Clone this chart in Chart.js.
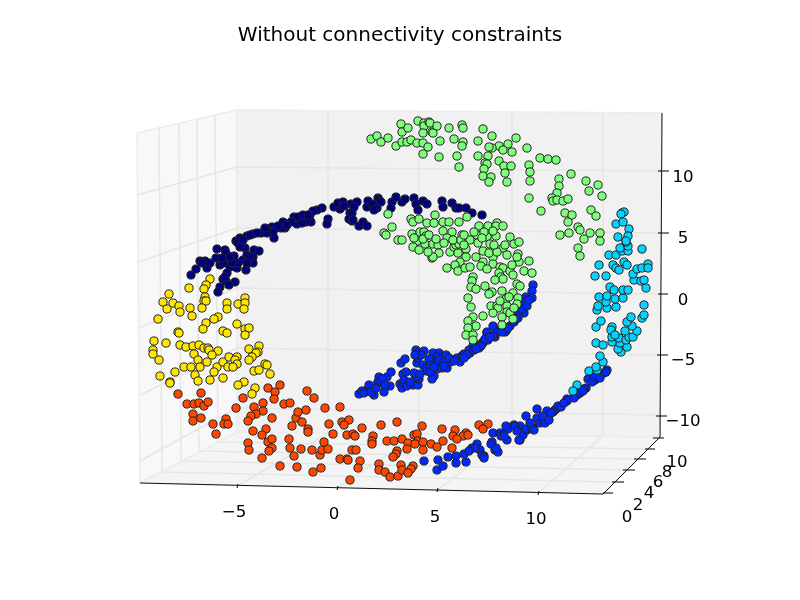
<!DOCTYPE html>
<html>
<head>
<meta charset="utf-8">
<title>Without connectivity constraints</title>
<script src="https://cdn.jsdelivr.net/npm/chart.js@4"></script>
<style>
  html, body { margin: 0; background: #fff; }
  canvas { display: block; }
</style>
</head>
<body>
<canvas id="myChart" width="800" height="600"></canvas>
<script>
const navy = [[-1.2,9.1],[-1.7,8.9],[-2.1,8.8],[-2.4,8.4],[-2.3,7.7],[-2.8,8.3],[-2.8,7.7],[-3.3,8.1],[-3.7,7.5],[-4.0,8.2],[-4.3,7.7],[-4.9,7.1],[-5.1,7.7],[-5.3,7.1],[-5.8,7.1],[-6.2,7.2],[-6.0,6.1],[-6.6,6.9],[-7.3,6.6],[-8.1,6.5],[-8.7,6.3],[-9.2,5.9],[-9.8,5.8],[-8.9,5.1],[-8.0,4.9],[-7.5,4.8],[-8.1,4.2],[-8.1,3.6],[-9.1,3.9],[-8.8,2.9],[-9.7,3.1],[-10.0,4.3],[-10.9,4.9],[-11.7,5.0],[-10.8,4.6],[-11.8,4.1],[-10.7,3.6],[-11.4,3.4],[-10.4,3.2],[-10.7,2.6],[-12.7,3.1],[-12.9,3.8],[-13.4,3.8],[-13.8,3.0],[-14.3,2.4],[-11.1,2.0],[-10.8,1.8],[-9.9,1.7],[-10.5,1.4],[-11.4,1.2],[-11.6,0.7],[-0.6,8.0],[-0.7,7.5],[0.0,9.2],[0.6,9.0],[0.4,9.6],[0.9,9.7],[1.6,8.6],[1.5,8.0],[1.7,9.5],[2.3,9.7],[2.0,9.2],[3.3,9.2],[3.4,9.8],[4.1,9.2],[4.3,9.1],[4.4,10.1],[4.5,9.9],[4.7,9.7],[5.8,9.7],[5.7,9.1],[6.2,10.2],[6.8,9.7],[7.1,10.0],[8.0,10.1],[8.2,9.5],[8.4,8.9],[8.9,9.8],[9.3,9.5],[10.8,9.8],[10.9,9.2],[11.8,9.6],[12.2,9.1],[12.5,9.1],[13.2,9.1],[13.8,8.6],[14.8,8.4],[1.8,8.6],[1.8,7.8],[2.5,7.3],[2.9,7.7],[3.3,7.3],[-3.6,8.2],[-3.1,8.4],[-2.6,8.4],[-3.2,7.6],[-4.7,7.4],[-5.6,7.3],[-6.1,6.7],[-6.7,6.6],[-6.9,7.1],[-7.7,6.6],[-8.4,6.4],[-9.4,6.1],[-9.6,5.6],[-9.1,5.9],[-9.4,5.2],[-8.7,4.4],[-8.4,4.2],[-8.7,3.6],[-9.6,3.6],[-10.2,3.6],[-11.1,3.6],[-10.4,4.2],[-11.2,4.1],[-12.4,3.6],[-13.2,3.6],[-10.9,2.2],[1.0,9.3],[3.8,9.5],[4.0,8.9],[1.9,7.9]];
const green = [[3.7,16.0],[4.3,16.3],[4.7,15.7],[5.4,16.1],[6.2,15.3],[6.8,15.7],[7.3,15.7],[7.7,15.9],[8.3,15.6],[8.9,15.6],[9.4,15.2],[8.9,14.5],[10.5,14.2],[12.3,14.3],[12.5,13.2],[6.7,17.5],[6.8,16.7],[7.4,17.1],[8.4,17.8],[9.0,17.6],[9.0,17.3],[9.5,17.7],[9.6,17.6],[8.9,16.6],[9.8,16.7],[9.9,16.6],[10.3,17.3],[11.5,17.1],[10.6,15.8],[12.0,16.0],[12.8,17.4],[12.9,17.1],[12.9,15.7],[12.8,15.3],[14.4,15.8],[14.9,17.0],[15.8,16.3],[18.2,16.1],[17.4,15.5],[16.5,15.3],[15.8,15.1],[15.5,15.2],[16.9,14.9],[17.8,14.7],[19.3,15.1],[14.4,14.3],[15.4,14.3],[15.1,13.6],[15.3,13.5],[15.0,13.0],[14.9,12.3],[15.7,12.2],[15.5,11.7],[16.5,13.8],[17.0,13.3],[17.7,13.3],[17.1,12.6],[17.3,11.7],[19.5,13.4],[19.6,12.7],[19.6,11.8],[19.5,10.1],[20.7,8.8],[20.6,14.1],[21.4,14.0],[22.2,13.9],[23.7,12.5],[22.5,12.0],[22.5,11.3],[22.3,10.6],[21.8,10.1],[21.9,9.8],[22.3,9.9],[22.9,9.8],[23.4,10.0],[25.2,11.8],[26.4,11.4],[25.5,10.8],[26.8,10.3],[25.7,8.9],[26.2,8.3],[23.1,8.6],[23.8,8.4],[23.4,7.7],[24.4,7.2],[24.6,6.9],[25.6,6.6],[23.5,6.6],[22.6,6.4],[25.0,6.0],[26.6,6.6],[26.6,5.8],[24.4,5.1],[24.6,4.3],[5.4,8.5],[5.8,7.2],[5.0,6.6],[5.2,6.4],[6.4,5.9],[6.8,5.9],[7.7,8.0],[7.9,7.7],[8.5,8.0],[9.3,7.6],[10.1,8.4],[10.0,7.6],[7.8,6.5],[8.6,6.7],[9.0,6.7],[9.2,6.3],[8.3,5.8],[7.9,5.2],[8.5,4.9],[9.1,5.5],[9.9,5.5],[10.4,5.4],[10.5,4.6],[9.8,4.1],[9.9,4.2],[10.9,7.7],[10.9,6.8],[11.5,7.7],[11.8,6.7],[11.3,6.1],[11.6,4.7],[12.0,5.2],[12.4,4.6],[13.2,5.0],[13.2,4.2],[12.5,7.7],[13.3,8.2],[12.8,6.4],[13.6,5.9],[12.2,5.4],[12.5,5.5],[12.6,3.7],[12.1,3.4],[11.3,3.1],[12.4,2.8],[13.1,3.1],[13.6,3.2],[14.5,7.3],[15.4,7.3],[16.3,7.6],[16.2,7.3],[16.9,7.3],[16.2,6.3],[15.3,6.2],[14.3,6.4],[14.4,5.6],[14.9,4.8],[15.6,5.5],[14.2,4.2],[14.9,3.7],[15.9,4.2],[15.9,3.5],[16.6,3.2],[16.9,3.1],[17.6,6.2],[18.0,5.5],[18.5,5.7],[16.9,5.1],[17.3,4.4],[18.4,4.5],[18.5,3.7],[19.5,3.8],[19.0,2.8],[19.8,2.6],[18.3,4.2],[17.6,2.8],[17.9,2.4],[16.5,2.6],[16.7,2.2],[16.9,2.0],[16.1,1.9],[18.3,1.5],[18.6,1.3],[13.9,2.2],[13.8,1.8],[13.7,1.2],[14.2,1.0],[13.4,0.1],[13.7,-0.8],[15.1,1.3],[15.8,0.7],[15.5,0.5],[16.8,0.8],[17.9,0.6],[17.2,0.0],[18.4,0.1],[17.3,-0.7],[18.3,-0.5],[15.7,-0.7],[16.3,-0.7],[16.4,-0.9],[15.9,-1.4],[17.3,-1.3],[17.6,-1.4],[14.9,-1.7],[13.9,-1.8],[13.4,-2.2],[14.2,-2.7],[13.4,-2.9],[13.2,-3.6],[13.9,-3.6],[16.8,-1.8],[16.8,-2.6],[13.9,-4.1],[8.0,6.1],[8.9,6.0],[9.5,6.4],[10.2,6.0],[9.4,4.7],[11.0,5.6],[11.9,5.9],[12.7,5.9],[13.0,6.4],[13.0,5.4],[14.0,6.7],[15.0,6.7],[15.9,6.8],[14.8,6.1],[15.5,4.6],[16.3,4.7],[16.0,5.4],[17.1,5.4],[14.7,3.3],[15.3,3.0],[17.8,3.4],[17.5,0.2],[18.0,-0.9],[16.6,-0.2],[17.9,-2.0]];
const blue = [[2.5,-9.5],[2.8,-9.2],[3.4,-9.0],[3.5,-8.6],[4.0,-9.6],[4.4,-8.4],[4.5,-7.8],[4.4,-8.3],[5.0,-9.3],[5.3,-7.8],[5.7,-7.3],[5.6,-8.7],[6.6,-8.5],[6.8,-8.9],[6.9,-8.4],[6.9,-7.5],[7.2,-7.3],[6.7,-6.4],[7.1,-6.0],[8.3,-6.4],[8.2,-5.1],[8.4,-5.4],[8.4,-5.9],[9.0,-5.2],[8.9,-6.6],[7.9,-8.6],[8.4,-8.6],[8.5,-8.0],[8.2,-7.8],[9.2,-6.9],[9.3,-7.2],[9.9,-5.4],[10.5,-5.4],[10.3,-5.8],[10.1,-6.3],[10.6,-6.4],[10.9,-5.8],[11.2,-5.6],[11.3,-6.9],[10.8,-6.9],[10.3,-7.0],[10.0,-7.7],[9.8,-8.0],[11.6,-6.3],[12.3,-5.9],[12.6,-6.3],[12.8,-5.7],[13.6,-5.4],[14.5,-4.9],[14.9,-4.4],[15.3,-3.4],[16.1,-3.8],[16.3,-3.1],[17.2,-3.2],[14.2,-4.8],[19.9,1.4],[19.8,0.8],[19.2,0.2],[19.8,0.1],[19.1,-0.3],[19.0,-1.4],[18.4,-1.4],[18.4,-1.9],[17.6,-2.7],[18.0,-2.3],[17.1,-3.3],[15.9,-2.7],[15.3,-3.3],[16.2,-3.4],[15.9,-3.7],[15.4,-4.1],[14.9,-4.3],[14.5,-4.6],[13.9,-4.7],[13.5,-5.1],[9.0,-16.2],[10.3,-17.1],[10.4,-16.1],[10.9,-16.7],[11.4,-15.8],[12.2,-15.7],[12.2,-16.4],[13.2,-16.3],[13.0,-15.5],[13.8,-14.9],[14.3,-14.5],[14.6,-15.1],[14.8,-15.6],[15.0,-15.7],[15.8,-14.3],[15.7,-14.5],[16.1,-15.1],[16.4,-15.3],[15.9,-13.4],[16.6,-13.4],[17.4,-13.0],[17.2,-12.7],[17.3,-14.1],[18.0,-12.6],[18.6,-12.7],[18.6,-14.1],[18.9,-13.6],[19.3,-13.1],[19.9,-12.9],[19.2,-11.7],[20.3,-11.0],[20.5,-12.2],[15.0,-15.9],[16.2,-14.9],[16.7,-13.7],[18.1,-12.7],[18.5,-14.1],[19.2,-13.0],[19.8,-12.9],[20.0,-13.1],[20.3,-11.9],[21.3,-11.2],[20.6,-12.4],[21.0,-12.2],[21.1,-12.4],[21.4,-11.8],[22.1,-11.1],[22.2,-11.0],[22.4,-10.7],[23.3,-10.0],[23.3,-10.2],[24.5,-9.4],[24.3,-9.6],[25.2,-8.9],[25.4,-8.0],[26.1,-8.1],[26.3,-7.8],[27.0,-7.4],[27.3,-7.1],[26.6,-7.6],[24.6,-9.4],[21.9,-11.3],[3.0,-9.4],[3.7,-9.3],[4.2,-8.9],[4.8,-8.0],[5.1,-8.6],[7.0,-8.1],[7.3,-8.7],[7.6,-8.3],[8.0,-7.4],[8.6,-7.5],[8.7,-5.6],[8.1,-5.6],[9.5,-6.0],[9.7,-6.6],[9.6,-7.3],[10.0,-6.8],[10.5,-6.1],[11.0,-6.3],[11.0,-6.7],[11.5,-5.9],[12.0,-6.2],[13.0,-5.5],[13.3,-5.6],[14.0,-5.1],[14.7,-4.7],[15.1,-4.0],[15.6,-3.8],[16.8,-3.3],[17.4,-2.9],[18.2,-2.0],[18.8,-1.0],[19.3,-0.7],[19.5,-0.1],[14.2,-5.0],[13.0,-5.9],[20.9,-11.7],[21.7,-11.4],[21.5,-12.1],[22.7,-10.8],[23.0,-10.4],[24.0,-9.9],[25.0,-9.0],[25.8,-8.3],[26.0,-7.7],[26.6,-7.9],[27.2,-7.3],[24.9,-9.2],[18.3,-13.2],[17.0,-13.7],[14.1,-14.9],[13.5,-15.2],[19.6,-12.4]];
const cyan = [[24.3,-8.6],[23.9,-9.2],[25.5,-7.2],[26.3,-7.1],[26.2,-6.8],[26.9,-6.3],[26.6,-5.7],[26.2,-4.4],[26.9,-4.6],[28.7,-5.3],[28.4,-5.0],[29.3,-4.8],[28.6,-4.4],[27.8,-4.3],[27.8,-3.8],[28.5,-3.9],[29.2,-4.1],[29.5,-3.8],[29.9,-3.8],[30.3,-3.2],[29.8,-2.7],[29.1,-3.2],[29.3,-2.3],[29.7,-1.8],[30.8,-1.9],[31.0,-1.6],[31.0,-0.6],[27.8,-2.8],[27.7,-3.1],[28.1,-3.6],[26.2,-2.8],[26.7,-2.2],[26.3,-1.1],[26.4,-0.7],[27.3,-0.9],[28.2,-0.8],[27.2,-0.3],[26.5,0.2],[27.3,0.3],[28.1,0.0],[28.9,0.1],[27.6,1.2],[28.0,0.9],[28.9,0.9],[29.4,0.9],[31.2,1.1],[30.0,1.9],[30.7,1.8],[31.0,1.9],[29.9,2.5],[26.1,2.3],[27.2,2.3],[26.5,3.4],[27.9,3.4],[28.2,3.1],[28.5,2.9],[29.0,3.7],[29.3,3.4],[30.3,3.0],[30.8,3.1],[31.4,3.5],[31.4,3.1],[27.5,4.4],[28.2,4.4],[28.8,4.8],[29.4,4.8],[28.6,5.1],[29.4,5.3],[29.2,5.7],[30.8,5.0],[28.8,8.6],[29.0,8.7],[28.7,8.5],[28.2,7.5],[28.9,7.7],[29.5,7.0],[28.4,6.2],[29.4,6.3],[29.2,5.8]];
const yellow = [[-12.4,2.0],[-12.8,1.4],[-14.5,1.1],[-13.0,1.0],[-16.5,0.5],[-12.9,0.2],[-13.0,-0.2],[-12.8,-0.2],[-17.1,-0.3],[-16.1,-0.4],[-15.5,-0.7],[-16.7,-1.0],[-15.4,-1.3],[-14.4,-0.9],[-13.2,-0.9],[-14.2,-1.7],[-17.6,-2.0],[-10.7,-0.4],[-10.7,-1.0],[-9.6,-0.5],[-8.9,0.1],[-8.9,-0.4],[-9.0,-1.0],[-11.6,-1.8],[-12.0,-2.0],[-12.8,-2.4],[-13.1,-3.0],[-9.7,-2.5],[-11.1,-3.2],[-10.7,-3.4],[-8.9,-3.0],[-8.5,-2.9],[-8.9,-3.6],[-15.6,-3.3],[-15.5,-3.4],[-18.0,-4.2],[-16.8,-4.4],[-15.4,-4.6],[-14.8,-4.8],[-14.1,-4.7],[-13.5,-4.6],[-13.0,-4.9],[-12.6,-4.9],[-12.5,-5.1],[-11.6,-5.2],[-12.2,-5.6],[-18.1,-5.1],[-18.1,-5.5],[-17.5,-6.1],[-14.0,-5.5],[-13.6,-6.1],[-12.7,-6.3],[-15.0,-6.8],[-14.3,-6.8],[-13.4,-6.8],[-11.7,-6.8],[-11.1,-6.3],[-10.5,-5.8],[-9.7,-5.8],[-9.9,-6.1],[-9.7,-6.5],[-10.6,-6.8],[-10.1,-6.8],[-12.0,-7.3],[-12.4,-8.1],[-11.1,-7.9],[-8.5,-5.0],[-7.5,-4.7],[-7.6,-5.3],[-7.8,-5.4],[-8.2,-5.8],[-8.5,-6.1],[-15.9,-7.3],[-17.4,-7.7],[-16.4,-8.3],[-16.4,-8.4],[-13.9,-7.6],[-13.6,-8.2],[-8.0,-7.2],[-7.5,-7.1],[-6.9,-6.5],[-6.7,-6.6],[-6.4,-7.5],[-9.0,-8.3],[-9.6,-8.6],[-7.9,-8.9],[-8.2,-9.5]];
const orange = [[-15.6,-9.5],[-13.3,-9.4],[-14.7,-10.5],[-14.0,-10.5],[-13.5,-10.4],[-13.0,-10.7],[-12.6,-10.3],[-14.1,-11.5],[-14.1,-12.2],[-13.3,-11.9],[-12.1,-12.5],[-11.8,-13.5],[-10.8,-12.0],[-11.0,-12.5],[-10.6,-12.5],[-9.8,-10.9],[-9.1,-9.9],[-8.0,-10.8],[-7.1,-10.4],[-7.1,-11.2],[-7.8,-11.5],[-8.3,-11.7],[-8.6,-12.2],[-6.6,-8.9],[-5.4,-8.6],[-5.9,-9.3],[-6.0,-10.0],[-5.0,-10.5],[-4.4,-10.4],[-6.2,-11.9],[-8.1,-13.2],[-6.8,-13.0],[-7.2,-13.6],[-8.6,-14.4],[-8.5,-15.1],[-6.6,-14.3],[-6.2,-14.0],[-6.2,-14.9],[-6.5,-15.2],[-7.2,-15.9],[-5.4,-16.7],[-3.7,-16.8],[-2.1,-17.3],[-1.3,-16.9],[-4.5,-14.0],[-4.4,-14.9],[-3.3,-15.0],[-4.0,-15.7],[-2.2,-15.1],[-1.4,-15.6],[-1.2,-15.1],[-0.6,-15.0],[-1.0,-14.3],[-4.2,-12.7],[-3.8,-11.9],[-3.6,-11.3],[-3.2,-12.3],[-2.8,-11.1],[-2.6,-13.0],[-2.6,-13.3],[-2.7,-9.2],[-2.0,-9.9],[-0.9,-10.9],[0.6,-10.8],[-0.5,-12.5],[-0.1,-13.5],[0.8,-12.3],[1.5,-12.1],[1.0,-12.6],[1.3,-13.6],[1.9,-13.5],[2.1,-13.7],[2.8,-12.9],[1.8,-15.1],[2.2,-15.1],[0.6,-16.0],[1.3,-16.0],[1.4,-16.1],[2.6,-16.2],[2.4,-16.9],[1.6,-18.1],[4.7,-12.6],[6.3,-12.3],[8.8,-12.7],[10.8,-13.0],[12.1,-13.1],[11.9,-13.7],[14.5,-12.6],[15.4,-12.5],[14.9,-13.0],[13.2,-13.4],[12.9,-13.7],[13.4,-13.6],[12.3,-14.0],[3.9,-13.7],[3.8,-14.2],[3.8,-14.5],[5.3,-14.2],[6.0,-14.2],[6.8,-14.0],[7.4,-14.4],[7.3,-15.0],[8.0,-13.6],[8.3,-13.5],[8.4,-14.2],[8.1,-14.5],[8.9,-14.3],[9.7,-14.5],[10.3,-14.8],[10.9,-14.2],[8.9,-15.1],[11.8,-14.9],[6.3,-15.2],[6.2,-15.5],[5.9,-15.8],[4.5,-16.5],[4.5,-17.1],[5.1,-17.3],[5.6,-17.8],[6.4,-17.7],[6.7,-16.6],[6.8,-17.1],[7.9,-16.7],[7.7,-17.0],[7.4,-17.4]];

const xTickLabels = ["\u22125", "0", "5", "10"];
const xTickAcross = [-10, 0, 10.1, 20.2];
const xTickUp = [-21.4, -21.6, -21.9, -22.1];
const zTickLabels = ["10", "5", "0", "\u22125", "\u221210"];
const zTickAcross = [34.9, 34.9, 34.9, 34.9, 34.9];
const zTickUp = [12.1, 6.0, -0.2, -6.2, -12.3];
const yTickLabels = ["0", "2", "4", "6", "8", "10"];
const yTickAcross = [29.3, 30.4, 31.5, 32.4, 33.3, 34.3];
const yTickUp = [-21.9, -20.7, -19.5, -18.4, -17.4, -16.4];

// the box of the 3d axes, same view units as the points
const backWall = [[-9.7,18.9],[32.8,18.6],[32.6,-13.8],[-9.7,-13.3]];
const leftWall = [[-19.7,16.6],[-9.7,18.9],[-9.7,-13.3],[-19.4,-18.4]];
const floorPane = [[-19.4,-18.4],[26.9,-19.5],[32.6,-13.8],[-9.7,-13.3]];
const gridSegments = [
  // back wall, x
  [-0.6,18.8,-0.6,-13.4],[8.5,18.8,8.5,-13.5],[17.8,18.7,17.8,-13.6],[26.9,18.6,26.9,-13.7],
  // back wall, z
  [-9.7,13.2,32.7,12.8],[-9.7,7.1,32.7,6.6],[-9.7,1.1,32.7,0.5],[-9.7,-4.9,32.7,-5.6],[-9.7,-10.9,32.6,-11.6],
  // left wall, z
  [-9.7,13.2,-19.7,10.4],[-9.7,7.1,-19.6,3.7],[-9.7,1.1,-19.5,-2.9],[-9.7,-4.9,-19.4,-9.6],[-9.7,-10.9,-19.4,-16.2],
  // left wall, y
  [-17.5,17.1,-17.2,-17.3],[-15.5,17.5,-15.3,-16.2],[-13.7,17.9,-13.5,-15.2],[-11.9,18.4,-11.6,-14.3],
  // floor, y
  [-17.2,-17.3,28.0,-18.3],[-15.3,-16.2,29.1,-17.1],[-13.5,-15.2,30.2,-16.0],[-11.6,-14.3,31.3,-15.0],
  // floor, x
  [-9.7,-18.7,-0.6,-13.4],[0.3,-18.9,8.5,-13.5],[10.3,-19.1,17.8,-13.6],[20.4,-19.4,26.9,-13.7]
];
const axisSegments = [
  [-19.4,-18.4,26.9,-19.5],[26.9,-19.5,32.6,-13.8],[32.8,18.6,32.6,-13.8]
];
const tickSegments = [
  [32.4,12.8,33.5,12.8],[32.4,6.6,33.5,6.6],[32.4,0.5,33.4,0.5],[32.3,-5.6,33.4,-5.6],[32.2,-11.7,33.3,-11.7],
  [26.9,-19.4,27.9,-19.4],[27.8,-18.3,29.0,-18.3],[28.9,-17.1,30.1,-17.1],[30.0,-16.0,31.2,-16.0],[31.1,-15.0,32.1,-15.0],[31.9,-13.9,33.0,-13.9],
  [-9.7,-18.9,-9.6,-18.5],[0.3,-19.1,0.4,-18.7],[10.3,-19.3,10.4,-18.9],[20.4,-19.6,20.5,-19.2]
];

function toPoints(list) {
  return list.map(function (p) { return { x: p[0], y: p[1] }; });
}

function toSegments(list) {
  const out = [];
  list.forEach(function (s) {
    out.push({ x: s[0], y: s[1] }, { x: s[2], y: s[3] }, { x: null, y: null });
  });
  return out;
}

function pointSet(label, list, color) {
  return {
    label: label,
    data: toPoints(list),
    backgroundColor: color,
    borderColor: "#222",
    borderWidth: 1,
    pointRadius: 4.1,
    showLine: false,
  };
}

function lineSet(label, list, color, width) {
  return {
    label: label,
    data: toSegments(list),
    showLine: true,
    borderColor: color,
    borderWidth: width,
    pointRadius: 0,
    spanGaps: false,
    fill: false,
  };
}

function paneSet(label, list, color) {
  const closed = toPoints(list.concat([list[0]]));
  return {
    label: label,
    data: closed,
    showLine: true,
    borderColor: "#ececec",
    borderWidth: 1.5,
    backgroundColor: color,
    pointRadius: 0,
    fill: "shape",
  };
}

// tick labels sit on the slanted axes, so they are placed through the scales
const tickText = {
  id: "tickText",
  afterDraw: function (chart) {
    const ctx = chart.ctx;
    const sx = chart.scales.x;
    const sy = chart.scales.y;
    ctx.save();
    ctx.fillStyle = "#000";
    ctx.font = "16.67px 'DejaVu Sans'";
    ctx.textAlign = "center";
    ctx.textBaseline = "middle";
    function put(labels, across, up) {
      labels.forEach(function (t, i) {
        ctx.fillText(t, sx.getPixelForValue(across[i]), sy.getPixelForValue(up[i]));
      });
    }
    put(xTickLabels, xTickAcross, xTickUp);
    put(zTickLabels, zTickAcross, zTickUp);
    put(yTickLabels, yTickAcross, yTickUp);
    ctx.restore();
  },
};

// first dataset ends up on top
const myChart = new Chart(document.getElementById("myChart"), {
  type: "scatter",
  data: {
    datasets: [
      pointSet("cluster 3", green, "#7dff7a"),
      pointSet("cluster 4", cyan, "#00d4ff"),
      pointSet("cluster 5", blue, "#0028ff"),
      pointSet("cluster 6", navy, "#00007f"),
      pointSet("cluster 2", yellow, "#ffe600"),
      pointSet("cluster 1", orange, "#ff4700"),
      lineSet("ticks", tickSegments, "#000", 1),
      lineSet("axes", axisSegments, "#111", 1),
      lineSet("grid", gridSegments, "#e6e6e6", 1.5),
      paneSet("back", backWall, "#f1f1f1"),
      paneSet("left", leftWall, "#f8f8f8"),
      paneSet("floor", floorPane, "#f4f4f4"),
    ],
  },
  options: {
    responsive: false,
    animation: false,
    events: [],
    layout: { padding: 0, autoPadding: false },
    plugins: {
      legend: { display: false },
      tooltip: { enabled: false },
      title: {
        display: true,
        text: "Without connectivity constraints",
        color: "#000",
        font: { family: "'DejaVu Sans'", size: 20, weight: "normal" },
        padding: { top: 24, bottom: 2 },
      },
    },
    scales: {
      x: { type: "linear", display: false, min: -33.4, max: 46.6 },
      y: { type: "linear", display: false, min: -30.1, max: 24.9 },
    },
  },
  plugins: [tickText],
});
</script>
</body>
</html>
